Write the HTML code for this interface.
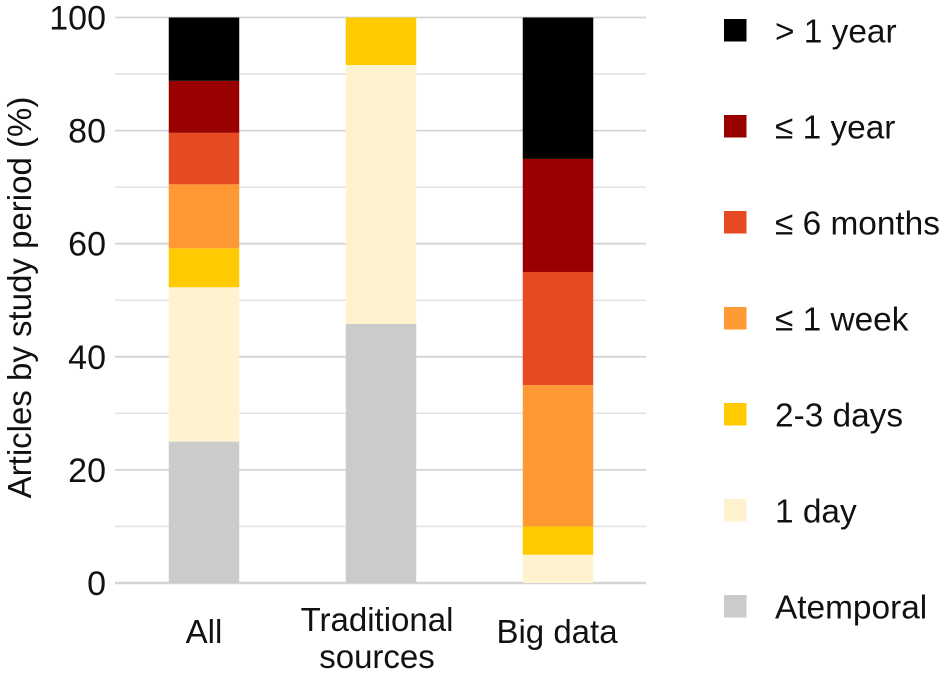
<!DOCTYPE html>
<html>
<head>
<meta charset="utf-8">
<style>
html,body{margin:0;padding:0;background:#fff;width:945px;height:674px;overflow:hidden}
svg{display:block}
text{font-family:"Liberation Sans",Arial,sans-serif;fill:#111;font-size:33px}
</style>
</head>
<body>
<svg id="chart" width="945" height="674" viewBox="0 0 945 674" xmlns="http://www.w3.org/2000/svg"></svg>
<script>
const categories = [["All"], ["Traditional", "sources"], ["Big data"]];
const seriesNames = ["Atemporal", "1 day", "2-3 days", "≤ 1 week", "≤ 6 months", "≤ 1 year", "> 1 year"];
const seriesColors = ["#cbcbcb", "#fff2cf", "#ffcb00", "#ff9933", "#e64a22", "#990000", "#000000"];
const atemporal = [25, 45.8, 0];
const oneDay = [27.3, 45.8, 5];
const twoThreeDays = [6.9, 8.4, 5];
const oneWeek = [11.3, 0, 25];
const sixMonths = [9.1, 0, 20];
const oneYear = [9.2, 0, 20];
const overOneYear = [11.2, 0, 25];
const yTicks = [0, 20, 40, 60, 80, 100];
const yGrid = [10, 30, 50, 70, 90];

const series = [atemporal, oneDay, twoThreeDays, oneWeek, sixMonths, oneYear, overOneYear];
const NS = "http://www.w3.org/2000/svg";
const svg = document.getElementById("chart");
const plot = {left: 115, right: 646, top: 17.5, bottom: 583};
const y = v => plot.bottom - (v / 100) * (plot.bottom - plot.top);
const x = i => 204 + 177 * i;
const barW = 70.5;
const labelShift = i => (i === 0 ? 0 : i === 1 ? -4 : -1);

function mk(tag, attrs, parent) {
  const e = document.createElementNS(NS, tag);
  for (const k in attrs) e.setAttribute(k, attrs[k]);
  (parent || svg).appendChild(e);
  return e;
}

yGrid.forEach(v => {
  const l = mk("line", {x1: plot.left, x2: plot.right, y1: y(v), y2: y(v), stroke: "#e3e3e3", "stroke-width": 1.6});
  
  
});
yTicks.forEach(v => {
  const l = mk("line", {x1: plot.left, x2: plot.right, y1: y(v), y2: y(v), stroke: "#d4d4d4", "stroke-width": v === 0 ? 2.4 : 1.8});
  
  
  const t = mk("text", {x: 106, y: y(v) + 12, "text-anchor": "end", style: "font-size:34px"});
  t.textContent = v;
  
  
});

categories.forEach((lines, i) => {
  let cum = 0;
  series.forEach((vals, s) => {
    const v = vals[i];
    if (v > 0) {
      const r = mk("rect", {x: x(i) - barW / 2, y: y(cum + v), width: barW, height: y(cum) - y(cum + v), fill: seriesColors[s]});
      
      
    }
    cum += v;
  });
  const startY = lines.length > 1 ? 631 : 643;
  lines.forEach((ln, j) => {
    const t = mk("text", {x: x(i) + labelShift(i), y: startY + j * 37, "text-anchor": "middle"});
    t.textContent = ln;
    
    
  });
});

const title = mk("text", {transform: "translate(31,297.5) rotate(-90)", "text-anchor": "middle"});
title.textContent = "Articles by study period (%)";



seriesNames.slice().reverse().forEach((name, i) => {
  const color = seriesColors[seriesColors.length - 1 - i];
  const top = 19 + i * 96;
  const sw = mk("rect", {x: 724, y: top, width: 22.5, height: 22.5, fill: color});
  
  
  const t = mk("text", {x: 775, y: top + 23.7, style: "font-size:33.4px"});
  t.textContent = name;
  
  
});
</script>
</body>
</html>
